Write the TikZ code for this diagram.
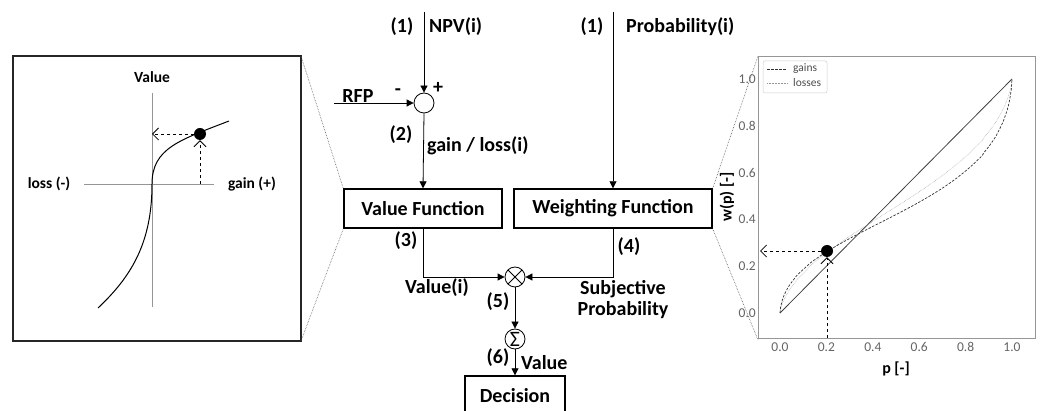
\documentclass[tikz,border=0pt]{standalone}
\usepackage{fontspec}
\setmainfont{Carlito}
\usetikzlibrary{arrows.meta,positioning,calc}
\definecolor{axgray}{RGB}{150,150,150}
\definecolor{txgray}{RGB}{100,100,100}
\tikzstyle{block} = [draw, line width=1.4pt, minimum height=39pt, inner sep=0pt, font=\bfseries\fontsize{20}{22}\selectfont]
\tikzstyle{junction} = [draw, circle, line width=0.8pt, inner sep=0pt]
\tikzstyle{lbl} = [font=\bfseries\fontsize{20}{22}\selectfont, inner sep=0pt]
\tikzstyle{smalllbl} = [font=\bfseries\fontsize{15.5}{17}\selectfont, inner sep=0pt]
\tikzstyle{tick} = [font=\fontsize{13.5}{14}\selectfont, text=txgray, inner sep=0pt]
\tikzstyle{arrow} = [line width=0.8pt, -{Triangle[length=7pt,width=7pt]}]
\tikzstyle{openarrow} = [line width=0.8pt, dashed, -{Straight Barb[length=6pt,width=12pt]}]
\tikzstyle{zoomline} = [line width=0.6pt, densely dotted, color=black!65]

\begin{document}
\begin{tikzpicture}[x=1pt, y=-1pt]
\useasboundingbox (0,0) rectangle (1041,411);

% Blocks
\node[block, minimum width=158pt] (vf) at (423,208.5) {Value Function};
\node[block, minimum width=198pt] (wf) at (613,208.5) {Weighting Function};
\node[block, minimum width=100pt] (dec) at (515,395.5) {Decision};

% Junctions
\node[junction, minimum size=20pt] (diff) at (424,103) {};
\node[junction, minimum size=20pt] (mult) at (515,277) {};
\draw[line width=0.8pt] ($(mult)+(-7,-7)$) -- ($(mult)+(7,7)$);
\draw[line width=0.8pt] ($(mult)+(-7,7)$) -- ($(mult)+(7,-7)$);
\node[junction, minimum size=20pt, font=\fontsize{22}{22}\selectfont] (sum) at (515,339) {Σ};

% Inputs
\coordinate (npv) at (424,12);
\coordinate (rfp) at (334,103);
\coordinate (prob) at (613,12);

% Connectors
\draw[arrow] (npv) -- (diff.north);
\draw[arrow] (rfp) -- (diff.west);
\draw[arrow] (diff.south) -- (vf.north);
\draw[arrow] (prob) -- (wf.north);
\draw[arrow] (vf.south) |- (mult.west);
\draw[arrow] (wf.south) |- (mult.east);
\draw[arrow] (mult.south) -- (sum.north);
\draw[arrow] (sum.south) -- (dec.north);

% Labels
\node[lbl] at (402,27) {(1)};
\node[lbl, anchor=west] at (429,27) {NPV(i)};
\node[lbl] at (592,27) {(1)};
\node[lbl, anchor=west] at (626,27) {Probability(i)};
\node[lbl] at (438,88) {+};
\node[lbl] at (398,92) {-};
\node[lbl] at (358,96) {RFP};
\node[lbl] at (401,135) {(2)};
\node[lbl, anchor=west] at (427,146) {gain / loss(i)};
\node[lbl] at (406,241) {(3)};
\node[lbl] at (629,247) {(4)};
\node[lbl] at (437,288) {Value(i)};
\node[lbl, align=center] at (623,300) {Subjective\\[-1pt]Probability};
\node[lbl] at (498,302) {(5)};
\node[lbl] at (498,358) {(6)};
\node[lbl, anchor=west] at (521,363) {Value};

% Value function inset
\draw[line width=1.2pt, color=black!85] (13,56) rectangle (301,341);
\draw[zoomline] (301,56) -- (vf.north west);
\draw[zoomline] (301,341) -- (vf.south west);
\draw[axgray, line width=0.8pt] (152,93) -- (152,307);
\draw[axgray, line width=0.8pt] (84,184) -- (214,184);
\node[smalllbl] at (152,77) {Value};
\node[smalllbl] at (49,184) {loss (-)};
\node[smalllbl] at (252,184) {gain (+)};
\draw[line width=1pt] (98,308) .. controls (132,276) and (152,242) .. (152,184)
  .. controls (152,148) and (180,140) .. (229,121);
\node[circle, fill=black, minimum size=12pt, inner sep=0pt] (vdot) at (200,134) {};
\draw[openarrow] (200,184) -- (vdot.south);
\draw[openarrow] (vdot.west) -- (152,134);

% Weighting function plot
\draw[zoomline] (wf.north east) -- (758,56);
\draw[zoomline] (wf.south east) -- (758,340);
\draw[axgray, line width=0.8pt] (758,56) rectangle (1035,338);
\foreach \t [count=\i from 0] in {0.0,0.2,0.4,0.6,0.8,1.0} {
  \node[tick] at ({780+46.4*\i},347) {\t};
  \node[tick, anchor=east] at (756,{313-46.8*\i}) {\t};
}
\node[font=\bfseries\fontsize{16}{17}\selectfont, inner sep=0pt] at (896,369) {p [-]};
\node[font=\bfseries\fontsize{16}{17}\selectfont, inner sep=0pt, rotate=90] at (727,197) {w(p) [-]};
\begin{scope}[shift={(780pt,-313pt)}, x=232pt, y=234pt]
  \draw[line width=0.8pt, color=black!75] (0,0) -- (1,1);
  \draw[line width=0.5pt, color=axgray, densely dotted] (0,0) -- plot[domain=0.002:0.998, samples=120, smooth]
    (\x, {pow(\x,0.69)/pow(pow(\x,0.69)+pow(1-\x,0.69),1/0.69)}) -- (1,1);
  \draw[line width=0.7pt, color=black!80, dashed, dash pattern=on 2.5pt off 1.5pt] (0,0) -- plot[domain=0.002:0.998, samples=120, smooth]
    (\x, {pow(\x,0.61)/pow(pow(\x,0.61)+pow(1-\x,0.61),1/0.61)}) -- (1,1);
\end{scope}
% Legend
\draw[black!20, line width=0.5pt, rounded corners=2pt] (763,61) rectangle (827,93);
\draw[black!80, line width=0.6pt, dash pattern=on 2.5pt off 1.5pt] (767,69) -- (787,69);
\draw[axgray, line width=0.5pt, densely dotted] (767,83) -- (787,83);
\node[tick, anchor=west, text=black!70, font=\fontsize{11.5}{12}\selectfont] at (793,69) {gains};
\node[tick, anchor=west, text=black!70, font=\fontsize{11.5}{12}\selectfont] at (793,83) {losses};
\node[circle, fill=black, minimum size=12pt, inner sep=0pt] (wdot) at (827,251) {};
\draw[openarrow] (827,338) -- (wdot.south);
\draw[openarrow] (wdot.west) -- (760,251);
\end{tikzpicture}
\end{document}
